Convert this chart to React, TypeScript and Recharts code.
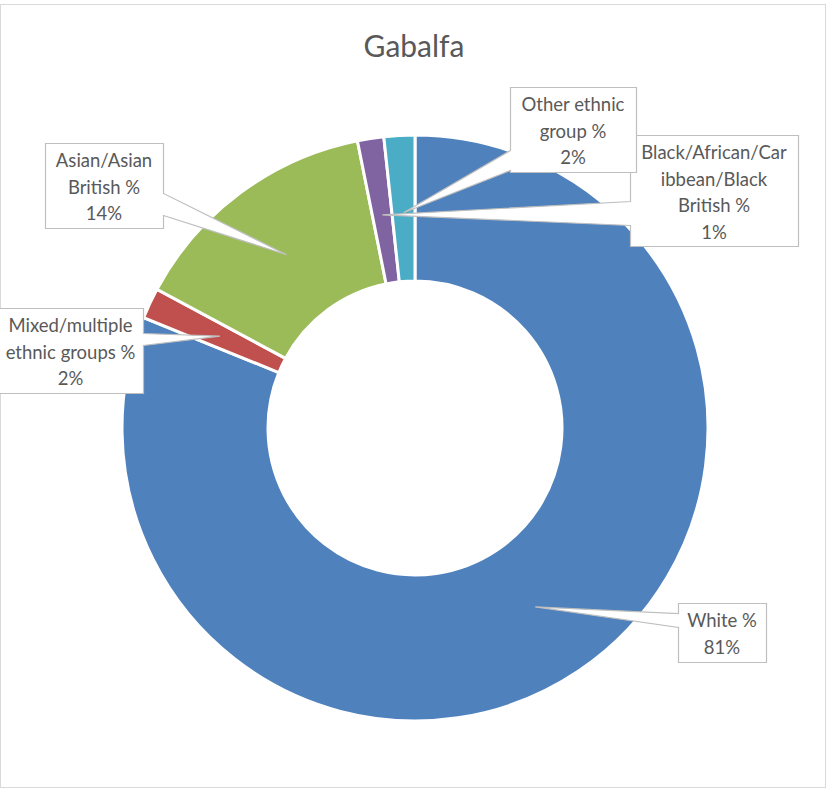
import { PieChart, Pie, Cell } from 'recharts';

const CATEGORIES = [
  'White %',
  'Mixed/multiple ethnic groups %',
  'Asian/Asian British %',
  'Black/African/Caribbean/Black British %',
  'Other ethnic group %',
];
const VALUES = [81.15, 1.7, 14.0, 1.45, 1.7];
const LABEL_LINES = [
  ['White %'],
  ['Mixed/multiple', 'ethnic groups %'],
  ['Asian/Asian', 'British %'],
  ['Black/African/Car', 'ibbean/Black', 'British %'],
  ['Other ethnic', 'group %'],
];

const COLORS = ['#4f81bd', '#c0504d', '#9bbb59', '#8064a2', '#4bacc6'];
const TEXT = '#595959';
const BOX_STROKE = '#bfbfbf';
const FONT = 'Lato, "Open Sans", sans-serif';

// callout boxes, offsets from the pie centre; pointer base sits on one side of the box
const CALLOUTS = [
  { dx: 263, dy: 175, w: 88, h: 59, side: 'left', a: 10, b: 24 },
  { dx: -417, dy: -120, w: 145, h: 85, side: 'right', a: 25, b: 37 },
  { dx: -370, dy: -285, w: 118, h: 85, side: 'right', a: 50, b: 72 },
  { dx: 215, dy: -293, w: 168, h: 111, side: 'left', a: 66, b: 90 },
  { dx: 95, dy: -341, w: 126, h: 85, side: 'left', a: 63, b: 83 },
];

const data = CATEGORIES.map((name, i) => ({ name, value: VALUES[i] }));
const RAD = Math.PI / 180;

function calloutPath(x: number, y: number, w: number, h: number, side: string, a: number, b: number, tx: number, ty: number) {
  if (side === 'left') {
    return `M${x},${y} L${x + w},${y} L${x + w},${y + h} L${x},${y + h} L${x},${y + b} L${tx},${ty} L${x},${y + a} Z`;
  }
  return `M${x},${y} L${x + w},${y} L${x + w},${y + a} L${tx},${ty} L${x + w},${y + b} L${x + w},${y + h} L${x},${y + h} Z`;
}

function renderCallout(props: any) {
  const { cx, cy, midAngle, innerRadius, outerRadius, index, value } = props;
  const c = CALLOUTS[index];
  const r = innerRadius + (outerRadius - innerRadius) * 0.47;
  const tx = cx + r * Math.cos(-midAngle * RAD);
  const ty = cy + r * Math.sin(-midAngle * RAD);
  const x = cx + c.dx;
  const y = cy + c.dy;
  const lines = [...LABEL_LINES[index], `${Math.round(value)}%`];
  return (
    <g key={`callout-${index}`}>
      <path
        d={calloutPath(x + 0.5, y + 0.5, c.w, c.h, c.side, c.a, c.b, tx, ty)}
        fill="#ffffff"
        stroke={BOX_STROKE}
        strokeWidth={1.2}
      />
      {lines.map((ln, j) => (
        <text
          key={j}
          x={x + c.w / 2}
          y={y + 17 + j * 26.5}
          textAnchor="middle"
          dominantBaseline="central"
          fill={TEXT}
          fontSize={18.5}
          fontFamily={FONT}
        >
          {ln}
        </text>
      ))}
    </g>
  );
}

export default function App() {
  return (
    <div style={{ position: 'absolute', left: 0, top: 0, width: 827, height: 791, background: '#fff' }}>
      <div
        style={{
          position: 'absolute',
          left: 0,
          top: 4,
          width: 826,
          height: 784,
          boxSizing: 'border-box',
          border: '1px solid #d9d9d9',
        }}
      />
      <div style={{ position: 'absolute', left: 0, top: 0 }}>
        <PieChart width={827} height={791} margin={{ top: 0, right: 0, bottom: 0, left: 0 }}>
          <text
            x={414}
            y={45}
            textAnchor="middle"
            dominantBaseline="central"
            fill={TEXT}
            fontSize={30}
            fontFamily={FONT}
          >
            Gabalfa
          </text>
          <Pie
            data={data}
            dataKey="value"
            nameKey="name"
            cx={415}
            cy={428}
            innerRadius={147}
            outerRadius={293}
            startAngle={90}
            endAngle={-270}
            stroke="#ffffff"
            strokeWidth={3}
            label={renderCallout}
            labelLine={false}
            isAnimationActive={false}
          >
            {data.map((_, i) => (
              <Cell key={i} fill={COLORS[i]} />
            ))}
          </Pie>
        </PieChart>
      </div>
    </div>
  );
}
